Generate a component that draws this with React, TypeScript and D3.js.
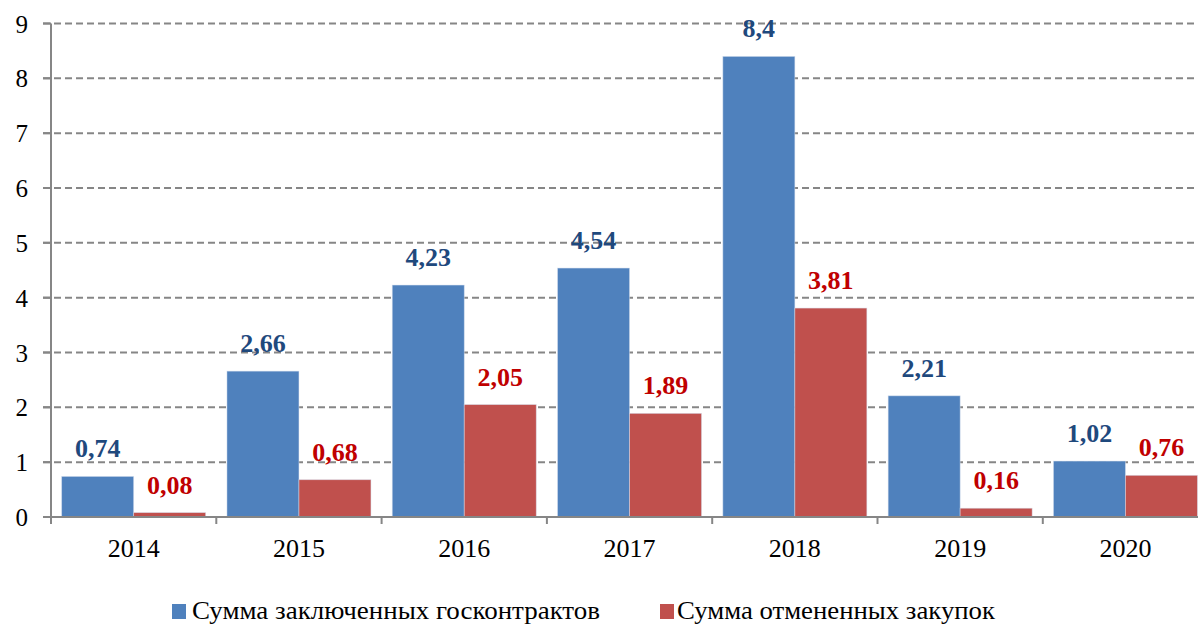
import * as d3 from "d3";

const years = ["2014", "2015", "2016", "2017", "2018", "2019", "2020"];
const contracts = [0.74, 2.66, 4.23, 4.54, 8.4, 2.21, 1.02];
const cancelled = [0.08, 0.68, 2.05, 1.89, 3.81, 0.16, 0.76];
const seriesNames = ["Сумма заключенных госконтрактов", "Сумма отмененных закупок"];
const yTicks = [0, 1, 2, 3, 4, 5, 6, 7, 8, 9];

const W = 1198;
const H = 627;
const barColors = ["#4F81BD", "#C0504D"];
const labelColors = ["#1F497D", "#C00000"];
const axisColor = "#868686";
const serif = { fontFamily: "Liberation Serif" };

const fmt = (v: number) => String(v).replace(".", ",");

export default function App() {
  const left = 51;
  const step = 165.3;
  const x = d3.scaleBand().domain(years).range([left, left + step * years.length]);
  const inner = d3
    .scaleBand()
    .domain(["a", "b"])
    .range([0, x.bandwidth()])
    .paddingInner(0)
    .paddingOuter(0.148);
  const y = d3.scaleLinear().domain([0, 9]).range([517, 23.5]);
  const data = [contracts, cancelled];
  const keys = ["a", "b"];

  return (
    <svg
      width={W}
      height={H}
      style={{ position: "absolute", left: 0, top: 0, background: "#fff" }}
    >
      {/* grid */}
      {yTicks.slice(1).map((t) => (
        <line
          key={"g" + t}
          x1={43}
          x2={W}
          y1={y(t)}
          y2={y(t)}
          stroke={axisColor}
          strokeWidth={2}
          strokeDasharray="7 4"
        />
      ))}
      {/* y axis */}
      <line x1={left} x2={left} y1={y(9)} y2={y(0)} stroke={axisColor} strokeWidth={2} />
      {yTicks.map((t) => (
        <g key={"y" + t}>
          <line x1={43} x2={left} y1={y(t)} y2={y(t)} stroke={axisColor} strokeWidth={2} />
          <text x={28} y={y(t) + 9} textAnchor="end" fontSize={25} fill="#000" style={serif}>
            {t}
          </text>
        </g>
      ))}
      {/* bars */}
      {years.map((yr, i) => (
        <g key={yr}>
          {data.map((s, k) => {
            const bx = (x(yr) as number) + (inner(keys[k]) as number);
            return (
              <rect
                key={k}
                x={bx}
                y={y(s[i])}
                width={inner.bandwidth()}
                height={y(0) - y(s[i])}
                fill={barColors[k]}
                stroke="#d6e0ee"
                strokeOpacity={0.6}
                strokeWidth={0.8}
              />
            );
          })}
        </g>
      ))}
      {/* x axis */}
      <line x1={43} x2={W} y1={y(0)} y2={y(0)} stroke={axisColor} strokeWidth={2} />
      {years.map((yr) => (
        <line
          key={"t" + yr}
          x1={x(yr) as number}
          x2={x(yr) as number}
          y1={y(0)}
          y2={y(0) + 7}
          stroke={axisColor}
          strokeWidth={2}
        />
      ))}
      {years.map((yr) => (
        <text
          key={"xl" + yr}
          x={(x(yr) as number) + x.bandwidth() / 2}
          y={557}
          textAnchor="middle"
          fontSize={26}
          fill="#000"
          style={serif}
        >
          {yr}
        </text>
      ))}
      {/* data labels */}
      {years.map((yr, i) => (
        <g key={"dl" + yr}>
          {data.map((s, k) => (
            <text
              key={k}
              x={(x(yr) as number) + (inner(keys[k]) as number) + inner.bandwidth() / 2}
              y={y(s[i]) - 19}
              textAnchor="middle"
              fontSize={26}
              fontWeight="bold"
              fill={labelColors[k]}
              style={serif}
            >
              {fmt(s[i])}
            </text>
          ))}
        </g>
      ))}
      {/* legend */}
      <rect x={172} y={604} width={14} height={15} fill={barColors[0]} />
      <text x={192} y={619} fontSize={25} fill="#000" style={serif} textLength={408} lengthAdjust="spacingAndGlyphs">
        {seriesNames[0]}
      </text>
      <rect x={660} y={604} width={14} height={15} fill={barColors[1]} />
      <text x={677} y={619} fontSize={25} fill="#000" style={serif} textLength={318} lengthAdjust="spacingAndGlyphs">
        {seriesNames[1]}
      </text>
    </svg>
  );
}
